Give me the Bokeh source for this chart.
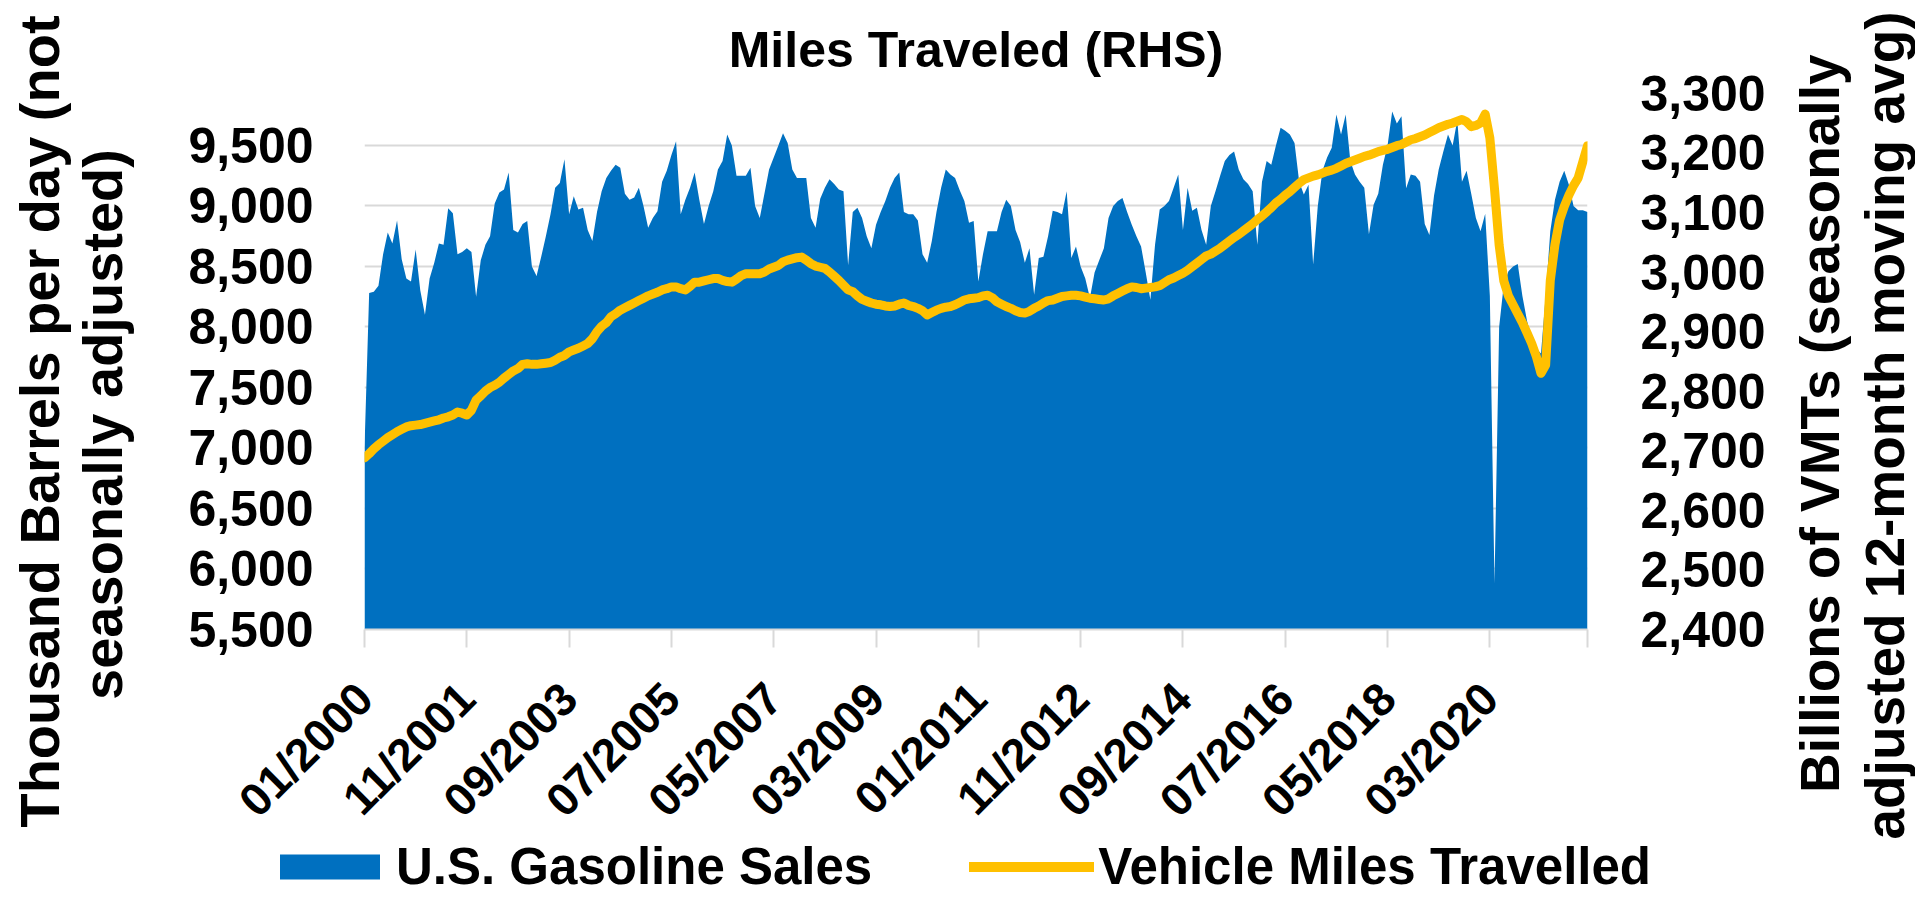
import math
import pandas as pd
from bokeh.plotting import figure
from bokeh.layouts import row, column
from bokeh.models import (Range1d, LinearAxis, FixedTicker, Legend, LegendItem,
                          NumeralTickFormatter)
from bokeh.core.properties import value
from bokeh.embed import file_html
from bokeh.resources import INLINE

# ---------------- data ----------------
months = pd.date_range("2000-01-01", "2021-12-01", freq="MS").strftime("%m/%Y").tolist()

# U.S. gasoline sales, thousand barrels per day (left axis)
gas_2000 = [7000, 8280, 8290, 8340, 8600, 8780, 8690, 8880, 8560, 8400, 8375, 8640]
gas_2001 = [8300, 8100, 8400, 8530, 8690, 8680, 8980, 8940, 8600, 8620, 8650, 8620]
gas_2002 = [8250, 8550, 8680, 8750, 9020, 9110, 9135, 9275, 8800, 8780, 8850, 8875]
gas_2003 = [8500, 8420, 8580, 8750, 8930, 9150, 9190, 9385, 8930, 9080, 8970, 8985]
gas_2004 = [8800, 8710, 8950, 9120, 9230, 9290, 9340, 9315, 9100, 9050, 9070, 9150]
gas_2005 = [9000, 8820, 8900, 8955, 9200, 9290, 9420, 9535, 8930, 9050, 9150, 9275]
gas_2006 = [9050, 8850, 9000, 9120, 9300, 9370, 9590, 9500, 9250, 9250, 9250, 9315]
gas_2007 = [9000, 8900, 9100, 9300, 9400, 9500, 9600, 9520, 9300, 9230, 9230, 9230]
gas_2008 = [8900, 8820, 9060, 9150, 9220, 9180, 9135, 9120, 8510, 8950, 8985, 8900]
gas_2009 = [8750, 8650, 8845, 8950, 9040, 9150, 9230, 9275, 8950, 8930, 8930, 8880]
gas_2010 = [8600, 8530, 8710, 8950, 9150, 9300, 9260, 9230, 9130, 9040, 8860, 8875]
gas_2011 = [8375, 8600, 8790, 8790, 8790, 8950, 9050, 9000, 8800, 8700, 8530, 8650]
gas_2012 = [8265, 8570, 8580, 8750, 8960, 8950, 8930, 9120, 8570, 8665, 8500, 8400]
gas_2013 = [8240, 8450, 8550, 8650, 8900, 9000, 9040, 9065, 8950, 8845, 8750, 8665]
gas_2014 = [8450, 8225, 8680, 8970, 9000, 9040, 9150, 9260, 8800, 9150, 8960, 8985]
gas_2015 = [8800, 8680, 9000, 9120, 9250, 9370, 9420, 9450, 9300, 9220, 9180, 9120]
gas_2016 = [8680, 9200, 9370, 9340, 9500, 9645, 9620, 9590, 9520, 9200, 9095, 9175]
gas_2017 = [8515, 9000, 9290, 9400, 9480, 9755, 9590, 9755, 9370, 9260, 9200, 9150]
gas_2018 = [8765, 9010, 9100, 9340, 9500, 9780, 9680, 9740, 9145, 9260, 9250, 9200]
gas_2019 = [8850, 8760, 9085, 9300, 9450, 9590, 9500, 9710, 9200, 9290, 9100, 8900]
gas_2020 = [8790, 8935, 8255, 5880, 8000, 8350, 8460, 8500, 8520, 8255, 8050, 7900]
gas_2021 = [7820, 7780, 8255, 8790, 9050, 9200, 9290, 9175, 9000, 8965, 8965, 8950]

# Vehicle miles travelled, billions (right axis)
vmt_2000 = [2688, 2695, 2703, 2710, 2716, 2722, 2727, 2732, 2736, 2740, 2742, 2743]
vmt_2001 = [2744, 2746, 2748, 2750, 2752, 2755, 2757, 2760, 2765, 2763, 2760, 2768]
vmt_2002 = [2785, 2792, 2800, 2806, 2810, 2815, 2822, 2828, 2834, 2838, 2845, 2846]
vmt_2003 = [2845, 2845, 2846, 2847, 2848, 2852, 2857, 2860, 2866, 2869, 2872, 2876]
vmt_2004 = [2880, 2888, 2900, 2909, 2915, 2925, 2930, 2936, 2940, 2944, 2948, 2952]
vmt_2005 = [2956, 2960, 2963, 2966, 2970, 2972, 2975, 2975, 2972, 2970, 2976, 2983]
vmt_2006 = [2983, 2985, 2987, 2989, 2989, 2986, 2984, 2983, 2988, 2994, 2997, 2997]
vmt_2007 = [2997, 2997, 3000, 3005, 3008, 3011, 3017, 3020, 3022, 3024, 3025, 3020]
vmt_2008 = [3014, 3010, 3008, 3006, 3000, 2993, 2986, 2978, 2970, 2967, 2960, 2954]
vmt_2009 = [2951, 2948, 2946, 2945, 2943, 2942, 2943, 2946, 2948, 2944, 2942, 2939]
vmt_2010 = [2935, 2928, 2932, 2936, 2939, 2941, 2942, 2945, 2949, 2953, 2955, 2956]
vmt_2011 = [2957, 2960, 2961, 2957, 2950, 2946, 2942, 2939, 2935, 2932, 2931, 2934]
vmt_2012 = [2939, 2943, 2948, 2952, 2953, 2956, 2959, 2960, 2961, 2961, 2960, 2958]
vmt_2013 = [2956, 2955, 2954, 2953, 2955, 2960, 2964, 2968, 2972, 2975, 2974, 2972]
vmt_2014 = [2973, 2974, 2975, 2977, 2982, 2987, 2990, 2994, 2998, 3003, 3009, 3015]
vmt_2015 = [3021, 3027, 3030, 3035, 3040, 3046, 3052, 3058, 3063, 3069, 3075, 3081]
vmt_2016 = [3088, 3094, 3101, 3108, 3116, 3122, 3129, 3135, 3142, 3149, 3155, 3158]
vmt_2017 = [3161, 3163, 3166, 3169, 3171, 3174, 3178, 3182, 3185, 3188, 3191, 3194]
vmt_2018 = [3196, 3199, 3202, 3204, 3206, 3209, 3212, 3214, 3218, 3222, 3224, 3227]
vmt_2019 = [3230, 3234, 3238, 3242, 3245, 3248, 3250, 3253, 3256, 3252, 3244, 3246]
vmt_2020 = [3250, 3265, 3225, 3140, 3045, 2985, 2960, 2945, 2930, 2915, 2898, 2880]
vmt_2021 = [2858, 2830, 2844, 2986, 3046, 3087, 3110, 3129, 3145, 3158, 3185, 3212]

gasoline = (gas_2000 + gas_2001 + gas_2002 + gas_2003 + gas_2004 + gas_2005 + gas_2006 +
            gas_2007 + gas_2008 + gas_2009 + gas_2010 + gas_2011 + gas_2012 + gas_2013 +
            gas_2014 + gas_2015 + gas_2016 + gas_2017 + gas_2018 + gas_2019 + gas_2020 + gas_2021)
vmt = (vmt_2000 + vmt_2001 + vmt_2002 + vmt_2003 + vmt_2004 + vmt_2005 + vmt_2006 +
       vmt_2007 + vmt_2008 + vmt_2009 + vmt_2010 + vmt_2011 + vmt_2012 + vmt_2013 +
       vmt_2014 + vmt_2015 + vmt_2016 + vmt_2017 + vmt_2018 + vmt_2019 + vmt_2020 + vmt_2021)

x_tick_labels = ["01/2000", "11/2001", "09/2003", "07/2005", "05/2007", "03/2009",
                 "01/2011", "11/2012", "09/2014", "07/2016", "05/2018", "03/2020"]
left_ticks = [5500, 6000, 6500, 7000, 7500, 8000, 8500, 9000, 9500]
right_ticks = [2400, 2500, 2600, 2700, 2800, 2900, 3000, 3100, 3200, 3300]

title_text = "Miles Traveled (RHS)"
left_title = ["Thousand Barrels per day (not", "seasonally adjusted)"]
right_title = ["Billions  of VMTs  (seasonally", "adjusted 12-month moving avg)"]
series_names = ["U.S. Gasoline Sales", "Vehicle Miles Travelled"]

# ---------------- styling / layout ----------------
BLUE = "#0070C0"
GOLD = "#FFC000"
GRID = "#D9D9D9"
FONT = "Liberation Sans"

TOTAL_H = 895
MAIN_H = 847                  # chart figure height
LEFT_W, MAIN_W, RIGHT_W = 150, 1640, 125
LEG_H, LEG_OVERLAP = 68, 20   # legend strip, pulled up into the chart's empty bottom border
FRAME_TOP, FRAME_BOTTOM = 88, 630

LEFT_MIN, LEFT_MAX = 5500, 9970
RIGHT_MIN, RIGHT_MAX = 2400, 3308


def no_align(f):
    if "frame_align" in f.properties():
        f.frame_align = False


def blank_fig(width, height):
    f = figure(width=width, height=height, output_backend="svg", toolbar_location=None,
               x_range=Range1d(0, width), y_range=Range1d(0, height), min_border=0,
               x_axis_location=None, y_axis_location=None)
    f.grid.visible = False
    f.outline_line_color = None
    f.background_fill_alpha = 0
    f.border_fill_alpha = 0
    no_align(f)
    return f


def from_top(py):
    # px from the top of the page -> data y inside a full-height side figure
    return TOTAL_H - py


# ---------------- main chart ----------------
idx = list(range(len(months)))
p = figure(width=MAIN_W, height=MAIN_H, output_backend="svg", toolbar_location=None,
           x_range=Range1d(0, len(months) - 1), y_range=Range1d(LEFT_MIN, LEFT_MAX),
           min_border_left=214, min_border_right=203, min_border_top=FRAME_TOP,
           min_border_bottom=MAIN_H - FRAME_BOTTOM, title=title_text)
no_align(p)
p.extra_y_ranges = {"vmt": Range1d(RIGHT_MIN, RIGHT_MAX)}
p.outline_line_color = None
p.background_fill_color = "white"
p.border_fill_color = "white"

p.title.text_font = FONT
p.title.text_font_style = "bold"
p.title.text_font_size = "50px"
p.title.text_color = "black"
p.title.align = "center"
p.title.offset = -13
p.title.standoff = 22

area = p.varea(x=idx, y1=LEFT_MIN, y2=gasoline, fill_color=BLUE)
line = p.line(idx, vmt, y_range_name="vmt", line_color=GOLD, line_width=9,
              line_join="round", line_cap="round")

xt = [months.index(t) for t in x_tick_labels] + [len(months) - 1]
overrides = {months.index(t): t for t in x_tick_labels}
overrides[len(months) - 1] = ""
xa = p.xaxis[0]
xa.ticker = FixedTicker(ticks=xt)
xa.major_label_overrides = overrides
xa.major_label_orientation = math.pi / 4
xa.axis_line_color = GRID
xa.axis_line_width = 2
xa.major_tick_line_color = GRID
xa.major_tick_line_width = 2
xa.major_tick_out = 18
xa.major_tick_in = 0
xa.minor_tick_line_color = None
xa.major_label_standoff = 43
xa.major_label_text_font = FONT
xa.major_label_text_font_style = "bold"
xa.major_label_text_font_size = "46px"
xa.major_label_text_color = "black"

ya = p.yaxis[0]
ya.ticker = FixedTicker(ticks=left_ticks)
ya.formatter = NumeralTickFormatter(format="0,0")
ya.axis_line_color = None
ya.major_tick_line_color = None
ya.minor_tick_line_color = None
ya.major_label_standoff = 45
ya.major_label_text_font = FONT
ya.major_label_text_font_style = "bold"
ya.major_label_text_font_size = "50px"
ya.major_label_text_color = "black"

ra = LinearAxis(y_range_name="vmt", ticker=FixedTicker(ticks=right_ticks),
                formatter=NumeralTickFormatter(format="0,0"))
ra.axis_line_color = None
ra.major_tick_line_color = None
ra.minor_tick_line_color = None
ra.major_label_standoff = 47
ra.major_label_text_font = FONT
ra.major_label_text_font_style = "bold"
ra.major_label_text_font_size = "50px"
ra.major_label_text_color = "black"
p.add_layout(ra, "right")

p.xgrid.visible = False
p.ygrid.grid_line_color = GRID
p.ygrid.grid_line_width = 2

# ---------------- axis titles (rotated, reading bottom to top) ----------------
lf = blank_fig(LEFT_W, TOTAL_H)
lf.text(x=[39, 102], y=[from_top(421), from_top(424)], text=left_title, angle=math.pi / 2,
        text_font=value(FONT), text_font_style="bold", text_font_size="56px",
        text_color="black", text_align="center", text_baseline="middle")

rf = blank_fig(RIGHT_W, TOTAL_H)
rf.text(x=[29, 94], y=[from_top(408), from_top(425)], text=right_title, angle=math.pi / 2,
        text_font=value(FONT), text_font_style="bold", text_font_size="55px",
        text_color="black", text_align="center", text_baseline="middle")

# ---------------- legend strip ----------------
lg = blank_fig(MAIN_W, LEG_H)
lg.margin = (-LEG_OVERLAP, 0, 0, 0)
d_area = lg.varea(x=[-200, -100], y1=[-50, -50], y2=[-40, -40], fill_color=BLUE)
d_line = lg.line(x=[-200, -100], y=[-50, -50], line_color=GOLD, line_width=10,
                 line_cap="round")
legend = Legend(items=[LegendItem(label=series_names[0], renderers=[d_area]),
                       LegendItem(label=series_names[1], renderers=[d_line])],
                orientation="horizontal", location=(117, -3),
                glyph_width=125, glyph_height=31, label_height=64,
                label_standoff=4, spacing=97,
                padding=0, margin=0, border_line_alpha=0, background_fill_alpha=0,
                label_text_font=FONT, label_text_font_style="bold",
                label_text_font_size="51px", label_text_color="black")
lg.add_layout(legend, "center")

layout = row(lf, column(p, lg, spacing=0), rf, spacing=0)
open("out.html", "w").write(file_html(layout, INLINE))
